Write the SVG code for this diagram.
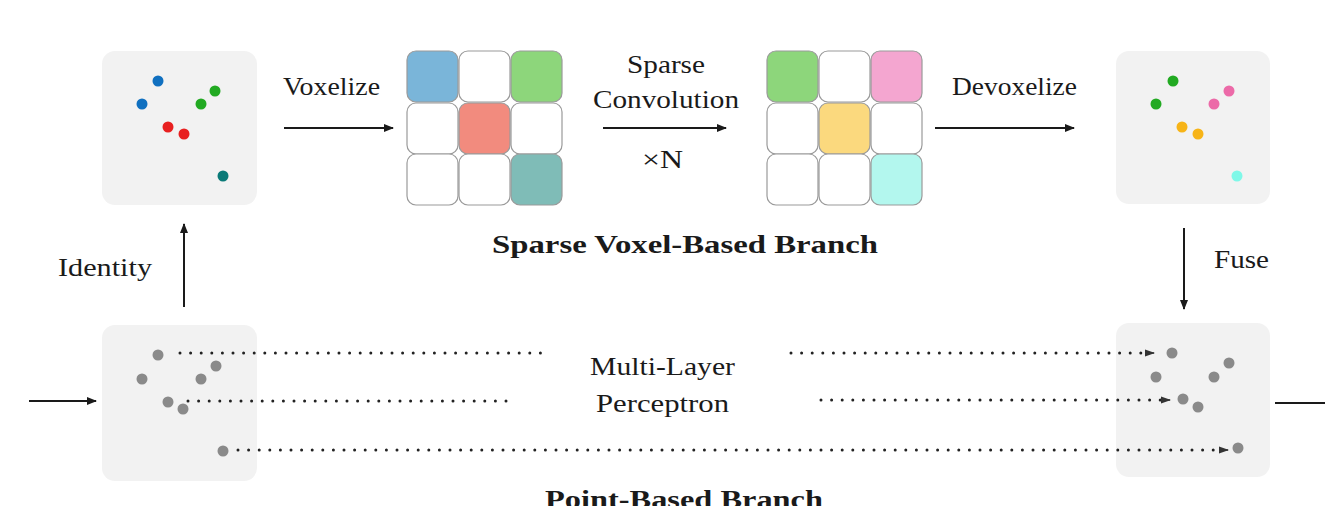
<svg xmlns="http://www.w3.org/2000/svg" width="1325" height="506" viewBox="0 0 1325 506">
<style>
.bg{fill:#f2f2f2}
.cell{stroke:#9a9a9a;stroke-width:1.2}
.t{font-family:"Liberation Serif","DejaVu Serif",serif;font-size:25px;fill:#1a1a1a}
.b{font-family:"Liberation Serif","DejaVu Serif",serif;font-size:25px;font-weight:bold;fill:#1a1a1a}
.ar{stroke:#1a1a1a;stroke-width:2;fill:none}
.dot{stroke:#222;stroke-width:3;stroke-linecap:round;stroke-dasharray:0 10.6;fill:none}
.g{fill:#8a8a8a}
</style>
<defs>
<marker id="ah" viewBox="0 0 10 10" refX="9" refY="5" markerWidth="10" markerHeight="10" markerUnits="userSpaceOnUse" orient="auto">
<path d="M0,1 L10,5 L0,9 Z" fill="#1a1a1a"/>
</marker>
<marker id="ahd" viewBox="0 0 10 10" refX="9" refY="5" markerWidth="10" markerHeight="10" markerUnits="userSpaceOnUse" orient="auto">
<path d="M0,1.5 L10,5 L0,8.5 Z" fill="#333"/>
</marker>
</defs>

<g id="points-in-top">
<rect class="bg" x="102" y="51" width="155" height="154" rx="13"/>
<circle cx="158" cy="81" r="5.5" fill="#1070c0"/>
<circle cx="142" cy="104" r="5.5" fill="#1070c0"/>
<circle cx="215" cy="91" r="5.5" fill="#22aa22"/>
<circle cx="201" cy="104" r="5.5" fill="#22aa22"/>
<circle cx="168" cy="127" r="5.5" fill="#e82020"/>
<circle cx="184" cy="134" r="5.5" fill="#e82020"/>
<circle cx="223" cy="176" r="5.5" fill="#0a7a78"/>
</g>

<g id="voxel-grid-1">
<rect class="cell" x="407" y="51" width="51" height="51" rx="9" fill="#7ab5d9"/>
<rect class="cell" x="459" y="51" width="51" height="51" rx="9" fill="#fff"/>
<rect class="cell" x="511" y="51" width="51" height="51" rx="9" fill="#8dd67b"/>
<rect class="cell" x="407" y="103" width="51" height="51" rx="9" fill="#fff"/>
<rect class="cell" x="459" y="103" width="51" height="51" rx="9" fill="#f28b7e"/>
<rect class="cell" x="511" y="103" width="51" height="51" rx="9" fill="#fff"/>
<rect class="cell" x="407" y="154" width="51" height="51" rx="9" fill="#fff"/>
<rect class="cell" x="459" y="154" width="51" height="51" rx="9" fill="#fff"/>
<rect class="cell" x="511" y="154" width="51" height="51" rx="9" fill="#7fbcb7"/>
</g>

<g id="voxel-grid-2">
<rect class="cell" x="767" y="51" width="51" height="51" rx="9" fill="#8dd67b"/>
<rect class="cell" x="819" y="51" width="51" height="51" rx="9" fill="#fff"/>
<rect class="cell" x="871" y="51" width="51" height="51" rx="9" fill="#f4a6d0"/>
<rect class="cell" x="767" y="103" width="51" height="51" rx="9" fill="#fff"/>
<rect class="cell" x="819" y="103" width="51" height="51" rx="9" fill="#fbd97e"/>
<rect class="cell" x="871" y="103" width="51" height="51" rx="9" fill="#fff"/>
<rect class="cell" x="767" y="154" width="51" height="51" rx="9" fill="#fff"/>
<rect class="cell" x="819" y="154" width="51" height="51" rx="9" fill="#fff"/>
<rect class="cell" x="871" y="154" width="51" height="51" rx="9" fill="#b3f7ee"/>
</g>

<g id="points-out-top">
<rect class="bg" x="1116" y="51" width="154" height="153" rx="13"/>
<circle cx="1173" cy="81" r="5.5" fill="#22aa22"/>
<circle cx="1156" cy="104" r="5.5" fill="#22aa22"/>
<circle cx="1229" cy="91" r="5.5" fill="#ec6aa8"/>
<circle cx="1214" cy="104" r="5.5" fill="#ec6aa8"/>
<circle cx="1182" cy="127" r="5.5" fill="#f7b417"/>
<circle cx="1198" cy="134" r="5.5" fill="#f7b417"/>
<circle cx="1237" cy="176" r="5.5" fill="#7ff8e8"/>
</g>

<g id="points-in-bottom">
<rect class="bg" x="102" y="325" width="155" height="156" rx="13"/>
<circle class="g" cx="158" cy="355" r="5.5"/>
<circle class="g" cx="142" cy="379" r="5.5"/>
<circle class="g" cx="168" cy="402" r="5.5"/>
<circle class="g" cx="183" cy="409" r="5.5"/>
<circle class="g" cx="201" cy="379" r="5.5"/>
<circle class="g" cx="216" cy="366" r="5.5"/>
<circle class="g" cx="223" cy="451" r="5.5"/>
</g>

<g id="points-out-bottom">
<rect class="bg" x="1116" y="323" width="154" height="154" rx="13"/>
<circle class="g" cx="1172" cy="353" r="5.5"/>
<circle class="g" cx="1156" cy="377" r="5.5"/>
<circle class="g" cx="1183" cy="399" r="5.5"/>
<circle class="g" cx="1198" cy="407" r="5.5"/>
<circle class="g" cx="1214" cy="377" r="5.5"/>
<circle class="g" cx="1229" cy="363" r="5.5"/>
<circle class="g" cx="1238" cy="448" r="5.5"/>
</g>

<g id="connectors">
<line class="ar" x1="284" y1="128" x2="393" y2="128" marker-end="url(#ah)"/>
<line class="ar" x1="603" y1="128" x2="726" y2="128" marker-end="url(#ah)"/>
<line class="ar" x1="935" y1="128" x2="1074" y2="128" marker-end="url(#ah)"/>
<line class="ar" x1="184" y1="307" x2="184" y2="224" marker-end="url(#ah)"/>
<line class="ar" x1="1184" y1="228" x2="1184" y2="309" marker-end="url(#ah)"/>
<line class="ar" x1="29" y1="401" x2="96" y2="401" marker-end="url(#ah)"/>
<line class="ar" x1="1275" y1="403" x2="1325" y2="403"/>
<path class="dot" d="M180,353 H541"/>
<path class="dot" d="M791,353 H1146"/>
<line x1="1146" y1="353" x2="1154" y2="353" stroke="#333" stroke-width="1.5" marker-end="url(#ahd)"/>
<path class="dot" d="M188,401 H509"/>
<path class="dot" d="M821,400 H1162"/>
<line x1="1162" y1="400" x2="1170" y2="400" stroke="#333" stroke-width="1.5" marker-end="url(#ahd)"/>
<path class="dot" d="M238,450 H1220"/>
<line x1="1220" y1="450" x2="1228" y2="450" stroke="#333" stroke-width="1.5" marker-end="url(#ahd)"/>
</g>

<g id="labels">
<text class="t" x="283" y="95" textLength="97" lengthAdjust="spacingAndGlyphs">Voxelize</text>
<text class="t" x="627" y="73" textLength="78" lengthAdjust="spacingAndGlyphs">Sparse</text>
<text class="t" x="593" y="108" textLength="146" lengthAdjust="spacingAndGlyphs">Convolution</text>
<text class="t" x="642" y="168" textLength="41" lengthAdjust="spacingAndGlyphs">×N</text>
<text class="t" x="952" y="95" textLength="125" lengthAdjust="spacingAndGlyphs">Devoxelize</text>
<text class="b" x="492" y="253" textLength="386" lengthAdjust="spacingAndGlyphs">Sparse Voxel-Based Branch</text>
<text class="t" x="58" y="276" textLength="94" lengthAdjust="spacingAndGlyphs">Identity</text>
<text class="t" x="1214" y="268" textLength="55" lengthAdjust="spacingAndGlyphs">Fuse</text>
<text class="t" x="590" y="375" textLength="145" lengthAdjust="spacingAndGlyphs">Multi-Layer</text>
<text class="t" x="596" y="412" textLength="133" lengthAdjust="spacingAndGlyphs">Perceptron</text>
<text class="b" x="545" y="508" textLength="278" lengthAdjust="spacingAndGlyphs">Point-Based Branch</text>
</g>
</svg>
